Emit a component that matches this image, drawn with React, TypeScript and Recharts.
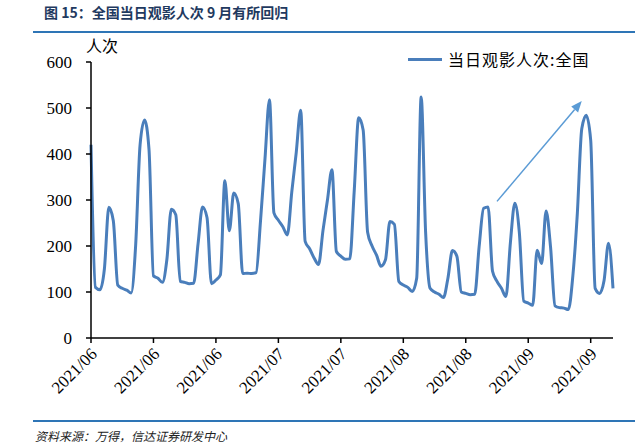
import React from 'react';
import { LineChart, Line, XAxis, YAxis, ReferenceLine } from 'recharts';

// 当日观影人次:全国，2021/06/01 起逐日读数（万人次）
const audience = [
  420, 110, 105, 150, 284, 255, 115, 108, 104, 98,
  200, 420, 474, 410, 135, 130, 121, 170, 280, 268,
  123, 121, 118, 119, 205, 285, 262, 118, 126, 137,
  342, 233, 315, 292, 140, 141, 140, 142, 255, 390,
  518, 272, 256, 242, 224, 317, 403, 495, 210, 194,
  174, 160, 234, 300, 366, 188, 178, 171, 172, 320,
  479, 452, 230, 200, 180, 156, 170, 253, 247, 123,
  115, 110, 101, 130, 524, 230, 108, 100, 95, 88,
  130, 190, 178, 100, 97, 94, 95, 199, 282, 285,
  145, 123, 108, 90, 207, 293, 230, 80, 76, 71,
  191, 162, 276, 198, 70, 66, 65, 62, 135, 270,
  455, 484, 430, 108, 97, 125, 206, 108,
];

const pad = (n: number) => String(n).padStart(2, '0');
const dates = audience.map((_, i) => {
  const d = new Date(2021, 5, 1 + i);
  return `${d.getFullYear()}/${pad(d.getMonth() + 1)}/${pad(d.getDate())}`;
});

const xTicks = [
  '2021/06/01', '2021/06/15', '2021/06/29', '2021/07/13', '2021/07/27',
  '2021/08/10', '2021/08/24', '2021/09/07', '2021/09/21',
];
const yTicks = [0, 100, 200, 300, 400, 500, 600];

// arrow annotation (start / end in data terms)
const arrowFrom = { x: '2021/08/31', y: 297 };
const arrowTo = { x: '2021/09/19', y: 515 };

const data = dates.map((date, i) => ({ date, value: audience[i] }));

const LINE_COLOR = '#4A7EBB';
const SERIF = "'Liberation Serif', 'Times New Roman', serif";
const CJK = "'Noto Sans CJK SC', sans-serif";

function DateTick({ x, y, payload }: any) {
  const px = x + 7;
  const py = y + 12;
  return (
    <text
      x={px}
      y={py}
      textAnchor="end"
      transform={`rotate(-45 ${px} ${py})`}
      fontSize={17}
      fontFamily={SERIF}
      fill="#000"
    >
      {String(payload.value).slice(0, 7)}
    </text>
  );
}

function Arrow(props: any) {
  const { x1, y1, x2, y2 } = props;
  if ([x1, y1, x2, y2].some((v) => typeof v !== 'number' || isNaN(v))) return null;
  const ang = Math.atan2(y2 - y1, x2 - x1);
  const len = 11;
  const half = 4.5;
  const bx = x2 - len * Math.cos(ang);
  const by = y2 - len * Math.sin(ang);
  const nx = -Math.sin(ang) * half;
  const ny = Math.cos(ang) * half;
  return (
    <g>
      <line x1={x1} y1={y1} x2={bx} y2={by} stroke="#5B9BD5" strokeWidth={1.5} />
      <polygon points={`${x2},${y2} ${bx + nx},${by + ny} ${bx - nx},${by - ny}`} fill="#5B9BD5" />
    </g>
  );
}

export default function App() {
  return (
    <div style={{ position: 'absolute', left: 0, top: 0, width: 635, height: 443, background: '#fff', overflow: 'hidden' }}>
      <div
        style={{
          position: 'absolute', left: 44, top: 3, fontFamily: CJK, fontWeight: 700,
          fontSize: 14, color: '#1F3A60', whiteSpace: 'nowrap', lineHeight: '18px',
        }}
      >
        图 15：全国当日观影人次 9 月有所回归
      </div>
      <div style={{ position: 'absolute', left: 33, top: 31, width: 602, height: 2, background: '#2E75B6' }} />

      <div style={{ position: 'absolute', left: 86, top: 35, fontFamily: CJK, fontSize: 16, color: '#000', lineHeight: '20px' }}>
        人次
      </div>

      <div style={{ position: 'absolute', left: 0, top: 0 }}>
        <LineChart width={635} height={443} data={data} margin={{ top: 62, right: 22, bottom: 45, left: 0 }}>
          <XAxis
            dataKey="date"
            ticks={xTicks}
            interval={0}
            height={60}
            tickSize={5}
            tickMargin={0}
            tick={<DateTick />}
            axisLine={{ stroke: '#000', strokeWidth: 1.5 }}
            tickLine={{ stroke: '#000', strokeWidth: 1.5 }}
          />
          <YAxis
            domain={[0, 600]}
            ticks={yTicks}
            width={91}
            tickSize={5}
            tickMargin={14}
            axisLine={{ stroke: '#000', strokeWidth: 1.5 }}
            tickLine={{ stroke: '#000', strokeWidth: 1.5 }}
            tick={{ fontSize: 17, fontFamily: SERIF, fill: '#000' }}
          />
          <Line
            type="monotone"
            dataKey="value"
            stroke={LINE_COLOR}
            strokeWidth={3}
            dot={false}
            activeDot={false}
            isAnimationActive={false}
          />
          <ReferenceLine segment={[arrowFrom, arrowTo]} shape={Arrow} ifOverflow="visible" />
        </LineChart>
      </div>

      <div style={{ position: 'absolute', left: 408, top: 48, display: 'flex', alignItems: 'center' }}>
        <div style={{ width: 34, height: 3, background: LINE_COLOR }} />
        <span style={{ marginLeft: 6, fontFamily: CJK, fontSize: 16, letterSpacing: 1, color: '#000', lineHeight: '22px' }}>
          当日观影人次:全国
        </span>
      </div>

      <div style={{ position: 'absolute', left: 33, top: 420, width: 602, height: 2, background: '#2E75B6' }} />
      <div
        style={{
          position: 'absolute', left: 35, top: 428, fontFamily: CJK, fontSize: 12,
          fontStyle: 'italic', color: '#222', whiteSpace: 'nowrap', lineHeight: '16px',
        }}
      >
        资料来源：万得，信达证券研发中心
      </div>
    </div>
  );
}
